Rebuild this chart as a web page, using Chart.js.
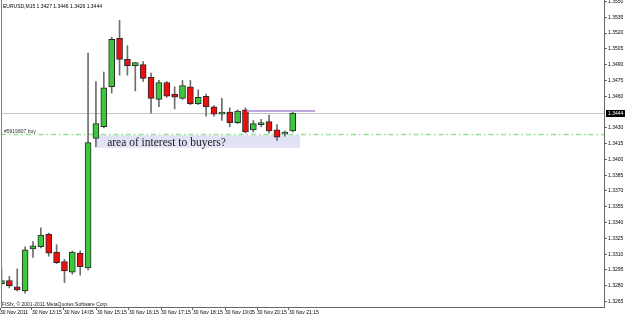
<!DOCTYPE html>
<html><head><meta charset="utf-8">
<script src="https://cdn.jsdelivr.net/npm/chart.js@4/dist/chart.umd.min.js"></script>
<style>html,body{margin:0;padding:0;background:#fff;overflow:hidden}</style>
</head><body>
<canvas id="c" width="625" height="317"></canvas>
<script>
// ---- data ----
const symbolTitle = 'EURUSD,M15';
const opens  = [1.3282,1.3285,1.3279,1.3275,1.3315,1.3317,1.3329,1.3312,1.3303,1.3293,1.3311,1.3297,1.3420,1.3431,1.3469,1.3515,1.3495,1.3489,1.3490,1.3478,1.3457,1.3473,1.3462,1.3458,1.3469,1.3453,1.3460,1.3450,1.3443,1.3445,1.3435,1.3447,1.3428,1.3433,1.3436,1.3428,1.3424,1.3427];
const highs  = [1.3297,1.3289,1.3296,1.3317,1.3322,1.3335,1.3330,1.3319,1.3305,1.3313,1.3313,1.3501,1.3474,1.3483,1.3516,1.3532,1.3508,1.3492,1.3493,1.3482,1.3475,1.3474,1.3469,1.3475,1.3475,1.3466,1.3462,1.3451,1.3458,1.3449,1.3447,1.3449,1.3437,1.3438,1.3442,1.3433,1.3427,1.3446];
const lows   = [1.3281,1.3278,1.3275,1.3273,1.3307,1.3316,1.3308,1.3301,1.3283,1.3291,1.3290,1.3295,1.3412,1.3430,1.3463,1.3480,1.3480,1.3465,1.3474,1.3444,1.3450,1.3459,1.3448,1.3457,1.3452,1.3452,1.3441,1.3441,1.3437,1.3431,1.3434,1.3425,1.3426,1.3431,1.3425,1.3418,1.3422,1.3426];
const closes = [1.3285,1.3280,1.3276,1.3314,1.3318,1.3328,1.3311,1.3302,1.3294,1.3312,1.3298,1.3416,1.3434,1.3468,1.3514,1.3495,1.3489,1.3492,1.3477,1.3458,1.3473,1.3460,1.3459,1.3470,1.3453,1.3459,1.3450,1.3443,1.3444,1.3435,1.3446,1.3426,1.3434,1.3435,1.3427,1.3421,1.3425,1.3444];
const timeLabels = ['30 Nov 2011','30 Nov 13:15','30 Nov 14:05','30 Nov 15:15','30 Nov 16:15','30 Nov 17:15','30 Nov 18:15','30 Nov 19:05','30 Nov 20:15','30 Nov 21:15'];
const timeLabelBars = [-0.19,3.87,7.94,12.13,16.20,20.27,24.33,28.40,32.47,36.53];
const priceTicks = [1.3550,1.3535,1.3520,1.3505,1.3490,1.3475,1.3460,1.3430,1.3415,1.3400,1.3385,1.3370,1.3355,1.3340,1.3325,1.3310,1.3295,1.3280,1.3265];
const orderPrice = 1.3424;
const orderLabel = '#5919807 buy';
const levelFrom = 31.2, levelTo = 39.85, levelPrice = 1.3446;
const zoneFrom = 11.9, zoneTo = 37.94, zoneTop = 1.3423, zoneBottom = 1.3411;
const zoneText = 'area of interest to buyers?';
const copyright = 'FtSfx, \u00A9 2001-2011 MetaQuotes Software Corp.';

// ---- chart ----
const BAR_PX = 7.87, AREA_W = 603;
const xMin = -0.0635, xMax = xMin + AREA_W / BAR_PX;
const GREEN = '#3cc83c', RED = '#ea1010';
Chart.defaults.font.family = 'Liberation Sans';
const last = closes.length - 1;

const overlay = {
  id: 'overlay',
  beforeDatasetsDraw(chart) {
    const {ctx, chartArea: a, scales: {x, y}} = chart;
    ctx.save();
    const zl = x.getPixelForValue(zoneFrom), zr = x.getPixelForValue(zoneTo);
    const zt = y.getPixelForValue(zoneTop), zb = y.getPixelForValue(zoneBottom);
    ctx.fillStyle = '#e2e2f6';
    ctx.fillRect(zl, zt, zr - zl, zb - zt);
    const py = Math.round(y.getPixelForValue(closes[last])) + 0.5;
    ctx.strokeStyle = '#c4c4c4'; ctx.lineWidth = 1;
    ctx.beginPath(); ctx.moveTo(a.left, py); ctx.lineTo(a.right, py); ctx.stroke();
    const oy = Math.round(y.getPixelForValue(orderPrice)) + 0.5;
    ctx.strokeStyle = '#98e298'; ctx.lineWidth = 1.5; ctx.setLineDash([5, 3, 1.5, 3]);
    ctx.beginPath(); ctx.moveTo(a.left, oy); ctx.lineTo(a.right, oy); ctx.stroke();
    ctx.setLineDash([]);
    ctx.fillStyle = '#1a1a1a'; ctx.textBaseline = 'alphabetic'; ctx.textAlign = 'left';
    ctx.font = '11.5px "Liberation Serif"';
    ctx.fillText(zoneText, zl + 12, zb - 2);
    ctx.font = '5px "Liberation Sans"'; ctx.fillStyle = '#333';
    ctx.fillText(orderLabel, a.left + 3, oy - 1.5);
    ctx.fillStyle = '#000';
    const f = v => v.toFixed(4);
    ctx.fillText(`${symbolTitle} ${f(opens[last])} ${f(highs[last])} ${f(lows[last])} ${f(closes[last])}`, a.left + 2, 7.5);
    ctx.fillStyle = '#222';
    ctx.fillText(copyright, a.left + 1, a.bottom - 1.5);
    ctx.restore();
  },
  afterDraw(chart) {
    const {ctx, chartArea: a, scales: {y}} = chart;
    ctx.save();
    ctx.strokeStyle = '#808080'; ctx.lineWidth = 1;
    ctx.beginPath(); ctx.moveTo(a.left + 0.5, a.top); ctx.lineTo(a.left + 0.5, a.bottom); ctx.stroke();
    const py = Math.round(y.getPixelForValue(closes[last])) + 0.5;
    ctx.fillStyle = '#000';
    ctx.fillRect(a.right + 2, py - 3.5, chart.width - a.right - 2, 7);
    ctx.fillStyle = '#fff'; ctx.font = '5px "Liberation Sans"'; ctx.textBaseline = 'middle'; ctx.textAlign = 'left';
    ctx.fillText(closes[last].toFixed(4), a.right + 4, py);
    ctx.restore();
  }
};

new Chart(document.getElementById('c'), {
  type: 'bar',
  data: {
    datasets: [
      {
        type: 'line',
        data: [{x: levelFrom, y: levelPrice}, {x: levelTo, y: levelPrice}],
        borderColor: '#bba6dd', borderWidth: 2, pointRadius: 0, order: 1
      },
      {
        type: 'bar',
        data: opens.map((o, i) => ({x: i, y: [o, closes[i]]})),
        backgroundColor: opens.map((o, i) => closes[i] >= o ? GREEN : RED),
        borderColor: '#2a2a2a', borderWidth: 1, borderSkipped: false,
        barThickness: 6, minBarLength: 2, grouped: false, order: 2
      },
      {
        type: 'bar',
        data: opens.map((o, i) => ({x: i, y: [lows[i], highs[i]]})),
        backgroundColor: '#6e6e6e', borderWidth: 0,
        barThickness: 1, grouped: false, order: 3
      }
    ]
  },
  options: {
    responsive: false, animation: false, devicePixelRatio: 1,
    layout: {padding: {left: 1, top: 0, right: 0, bottom: 0}},
    plugins: {legend: {display: false}, tooltip: {enabled: false}},
    events: [],
    scales: {
      x: {
        type: 'linear', min: xMin, max: xMax, offset: false,
        afterBuildTicks: s => { s.ticks = timeLabelBars.map(v => ({value: v})); },
        afterFit: s => { s.height = 10; s.paddingLeft = 0; s.paddingRight = 0; },
        ticks: {autoSkip: false, maxRotation: 0, minRotation: 0, align: 'start', padding: 0,
          font: {size: 5}, color: '#000', callback: (v, i) => timeLabels[i]},
        grid: {drawOnChartArea: false, drawTicks: true, tickLength: 3, color: '#666', offset: false},
        border: {display: true, color: '#666'}
      },
      y: {
        type: 'linear', position: 'right', min: 1.32598, max: 1.35514,
        afterBuildTicks: s => { s.ticks = priceTicks.map(v => ({value: v})); },
        afterFit: s => { s.width = 21; s.paddingTop = 0; s.paddingBottom = 0; },
        ticks: {autoSkip: false, padding: 1, font: {size: 5}, color: '#000', callback: v => v.toFixed(4)},
        grid: {drawOnChartArea: false, drawTicks: true, tickLength: 3, color: '#666'},
        border: {display: true, color: '#666'}
      }
    }
  },
  plugins: [overlay]
});
</script>
</body></html>
